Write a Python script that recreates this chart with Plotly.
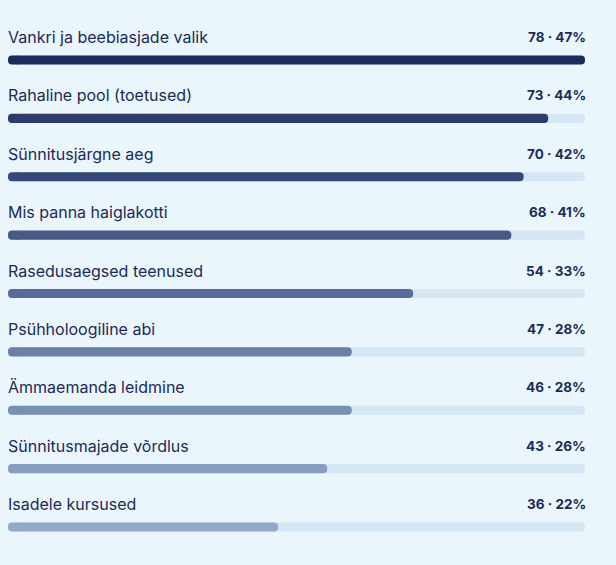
import plotly.graph_objects as go

categories = [
    "Vankri ja beebiasjade valik",
    "Rahaline pool (toetused)",
    "Sünnitusjärgne aeg",
    "Mis panna haiglakotti",
    "Rasedusaegsed teenused",
    "Psühholoogiline abi",
    "Ämmaemanda leidmine",
    "Sünnitusmajade võrdlus",
    "Isadele kursused",
]
counts = [78, 73, 70, 68, 54, 47, 46, 43, 36]
percents = [47, 44, 42, 41, 33, 28, 28, 26, 22]
colors = ["#1b2b5c", "#2a3d6c", "#34497a", "#465a88", "#576d99",
          "#6a80a8", "#7890b4", "#869dbf", "#92aaca"]

BG = "#eaf5fc"
TRACK = "#d5e6f4"
TEXT = "#1d2b57"
FONT = "Inter"

n = len(categories)
ys = list(range(n))
pmax = max(percents)
bw = 0.155
CAP = 1.0  # width of the left rounded cap, in axis units


def pill(values, color):
    # main body rounded at the right end, plus a short cap rounded at the left
    body = go.Bar(
        y=ys, x=[v - CAP / 2 for v in values], base=[CAP / 2] * n,
        orientation="h", width=bw,
        marker=dict(color=color, cornerradius=5, line_width=0),
        hoverinfo="skip", showlegend=False)
    cap = go.Bar(
        y=ys, x=[-CAP] * n, base=[CAP] * n,
        orientation="h", width=bw,
        marker=dict(color=color, cornerradius=5, line_width=0),
        hoverinfo="skip", showlegend=False)
    return [body, cap]


fig = go.Figure()
for t in pill([pmax] * n, TRACK):
    fig.add_trace(t)
for t in pill(percents, colors):
    fig.add_trace(t)

for i, (c, k, p) in enumerate(zip(categories, counts, percents)):
    fig.add_annotation(x=0, y=i, text=c, xanchor="left", yanchor="middle",
                       yshift=23, xshift=-2, showarrow=False,
                       font=dict(family=FONT, size=16, color=TEXT))
    fig.add_annotation(x=pmax, y=i, text=f"<b>{k} · {p}%</b>", xanchor="right",
                       yanchor="middle", yshift=23, xshift=3, showarrow=False,
                       font=dict(family=FONT, size=13.5, color=TEXT))

spacing = 58.375
top = 60 / spacing
bottom = (565 - 527) / spacing
fig.update_layout(
    width=616, height=565, barmode="overlay",
    margin=dict(l=8, r=31, t=0, b=0),
    paper_bgcolor=BG, plot_bgcolor=BG,
    xaxis=dict(range=[0, pmax], visible=False, fixedrange=True),
    yaxis=dict(range=[n - 1 + bottom, -top], visible=False, fixedrange=True),
)
fig.write_html(
    "out.html",
    config={"displayModeBar": False},
    post_script="document.body.style.margin='0';document.body.style.background='" + BG + "';",
)
